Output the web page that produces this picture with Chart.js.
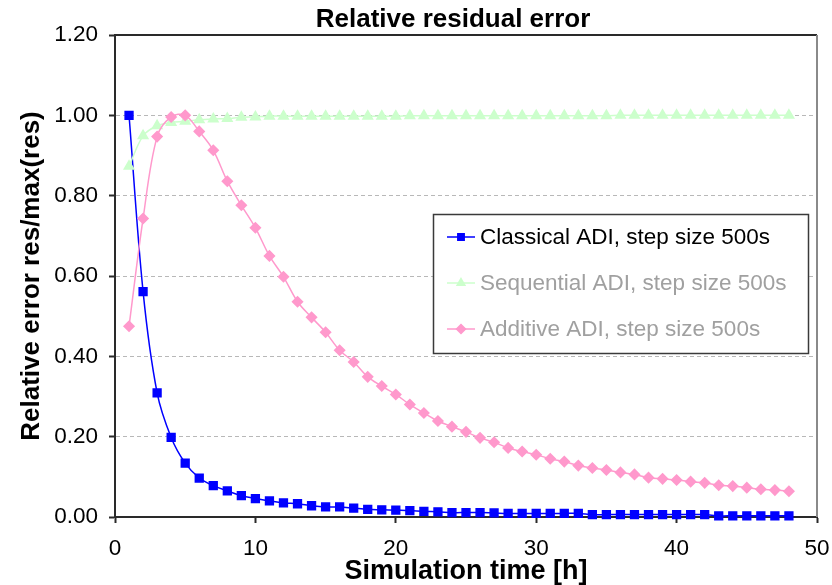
<!DOCTYPE html>
<html>
<head>
<meta charset="utf-8">
<script src="https://cdn.jsdelivr.net/npm/chart.js@4.4.0/dist/chart.umd.min.js"></script>
<style>
  html, body { margin: 0; padding: 0; background: #fff; }
  #wrap { width: 832px; height: 585px; }
</style>
</head>
<body>
<div id="wrap"><canvas id="residualChart" width="832" height="585"></canvas></div>
<script>
const titleText = "Relative residual error";
const xAxisTitle = "Simulation time [h]";
const yAxisTitle = "Relative error res/max(res)";
const seriesNames = ["Classical ADI, step size 500s", "Sequential ADI, step size 500s", "Additive ADI, step size 500s"];

const hours = [1, 2, 3, 4, 5, 6, 7, 8, 9, 10, 11, 12, 13, 14, 15, 16, 17, 18, 19, 20, 21, 22, 23, 24,
  25, 26, 27, 28, 29, 30, 31, 32, 33, 34, 35, 36, 37, 38, 39, 40, 41, 42, 43, 44, 45, 46, 47, 48];

const classicalADI = [1.000, 0.561, 0.309, 0.198, 0.134, 0.097, 0.078, 0.065, 0.053, 0.046, 0.040, 0.035,
  0.033, 0.028, 0.025, 0.025, 0.022, 0.019, 0.018, 0.017, 0.016, 0.014, 0.013, 0.011,
  0.011, 0.011, 0.010, 0.009, 0.009, 0.009, 0.009, 0.009, 0.009, 0.006, 0.006, 0.006,
  0.006, 0.006, 0.006, 0.006, 0.006, 0.006, 0.003, 0.003, 0.003, 0.003, 0.003, 0.003];

const sequentialADI = [0.873, 0.949, 0.974, 0.982, 0.985, 0.989, 0.991, 0.992, 0.995, 0.996, 0.998, 0.998,
  0.998, 0.998, 0.998, 0.998, 0.998, 0.998, 0.998, 0.998, 0.999, 0.999, 0.999, 0.999,
  0.999, 0.999, 0.999, 0.999, 0.999, 0.999, 0.999, 0.999, 0.999, 0.999, 0.999, 1.000,
  1.000, 1.000, 1.000, 1.000, 1.000, 1.000, 1.000, 1.000, 1.000, 1.000, 1.000, 1.000];

const additiveADI = [0.475, 0.743, 0.947, 0.996, 1.000, 0.960, 0.913, 0.836, 0.776, 0.720, 0.650, 0.598,
  0.536, 0.497, 0.460, 0.415, 0.386, 0.349, 0.326, 0.305, 0.280, 0.259, 0.239, 0.225,
  0.212, 0.197, 0.186, 0.172, 0.163, 0.155, 0.145, 0.138, 0.128, 0.122, 0.117, 0.111,
  0.106, 0.098, 0.095, 0.092, 0.088, 0.085, 0.079, 0.077, 0.073, 0.069, 0.067, 0.064];

const FONT = '"Liberation Sans", Arial, sans-serif';

function toPoints(values) {
  return hours.map((h, i) => ({ x: h, y: values[i] }));
}

// chart title + plot frame (top / right edges)
const frameAndTitle = {
  id: "frameAndTitle",
  beforeDatasetsDraw(chart) {
    const { ctx, chartArea: a } = chart;
    ctx.save();
    ctx.lineWidth = 2;
    ctx.strokeStyle = "#2a2a2a";
    ctx.beginPath();
    ctx.moveTo(a.left, a.top);
    ctx.lineTo(a.right, a.top);
    ctx.stroke();
    ctx.strokeStyle = "#8a8a8a";
    ctx.beginPath();
    ctx.moveTo(a.right, a.top);
    ctx.lineTo(a.right, a.bottom);
    ctx.stroke();
    ctx.restore();
  },
  afterDraw(chart) {
    const ctx = chart.ctx;
    ctx.save();
    ctx.font = "bold 26px " + FONT;
    ctx.fillStyle = "#000";
    ctx.textAlign = "center";
    ctx.textBaseline = "middle";
    ctx.fillText(titleText, 453, 20);
    ctx.restore();
  }
};

// boxed legend inside the plot, like the Excel one
const boxLegend = {
  id: "boxLegend",
  afterDatasetsDraw(chart) {
    const ctx = chart.ctx;
    ctx.save();
    ctx.fillStyle = "#fff";
    ctx.fillRect(433, 214, 376, 140);
    ctx.strokeStyle = "#3a3a3a";
    ctx.lineWidth = 1.5;
    ctx.strokeRect(433.5, 214.5, 375, 139);
    chart.data.datasets.forEach((ds, i) => {
      const y = 237 + i * 46;
      ctx.strokeStyle = ds.borderColor;
      ctx.lineWidth = 1.5;
      ctx.beginPath();
      ctx.moveTo(447, y);
      ctx.lineTo(475, y);
      ctx.stroke();
      ctx.fillStyle = ds.pointBackgroundColor;
      ctx.strokeStyle = ds.pointBorderColor;
      Chart.helpers.drawPoint(ctx, { pointStyle: ds.pointStyle, radius: 4.5, borderWidth: 1, rotation: 0 }, 461, y);
      ctx.fillStyle = i === 0 ? "#000" : "#a0a0a0";
      ctx.font = "22.5px " + FONT;
      ctx.textAlign = "left";
      ctx.textBaseline = "middle";
      ctx.fillText(ds.label, 480, y + 1);
    });
    ctx.restore();
  }
};

new Chart(document.getElementById("residualChart"), {
  type: "line",
  data: {
    datasets: [
      {
        label: seriesNames[0],
        data: toPoints(classicalADI),
        borderColor: "#0000ff",
        backgroundColor: "#0000ff",
        pointBackgroundColor: "#0000ff",
        pointBorderColor: "#0000ff",
        pointStyle: "rect",
        pointRadius: 5.5,
        borderWidth: 1.5,
        order: 3
      },
      {
        label: seriesNames[1],
        data: toPoints(sequentialADI),
        borderColor: "#ccffcc",
        backgroundColor: "#ccffcc",
        pointBackgroundColor: "#ccffcc",
        pointBorderColor: "#ccffcc",
        pointStyle: "triangle",
        pointRadius: 5.5,
        borderWidth: 1.5,
        order: 2
      },
      {
        label: seriesNames[2],
        data: toPoints(additiveADI),
        borderColor: "#ff99cc",
        backgroundColor: "#ff99cc",
        pointBackgroundColor: "#ff99cc",
        pointBorderColor: "#ff99cc",
        pointStyle: "rectRot",
        pointRadius: 5,
        borderWidth: 1.5,
        order: 1
      }
    ]
  },
  options: {
    responsive: false,
    animation: false,
    devicePixelRatio: 1,
    layout: { padding: { top: 35, left: 10, right: 15, bottom: 0 } },
    elements: { line: { tension: 0.35, fill: false } },
    datasets: { line: { clip: false } },
    plugins: {
      legend: { display: false },
      tooltip: { enabled: false },
      title: { display: false }
    },
    scales: {
      x: {
        type: "linear",
        position: "bottom",
        min: 0,
        max: 50,
        ticks: { stepSize: 10, color: "#000", font: { family: FONT, size: 22.5 }, padding: 12, maxRotation: 0 },
        grid: { drawOnChartArea: false, tickLength: 6, tickColor: "#2a2a2a", tickWidth: 2 },
        border: { color: "#2a2a2a", width: 2 },
        title: { display: true, text: xAxisTitle, color: "#000", font: { family: FONT, size: 27, weight: "bold" }, padding: { top: 0, bottom: -3 } },
        afterFit(scale) {
          scale.height = 68;
          scale.paddingLeft = 0;
          scale.paddingRight = 0;
        }
      },
      y: {
        min: 0,
        max: 1.2,
        ticks: {
          stepSize: 0.2,
          color: "#000",
          font: { family: FONT, size: 22.5 },
          padding: 11,
          callback: v => v.toFixed(2)
        },
        grid: {
          color: c => (c.tick.value > 1.19 || c.tick.value === 0) ? "rgba(0,0,0,0)" : "#b8b8b8",
          lineWidth: 1,
          tickLength: 6,
          tickColor: "#2a2a2a",
          tickWidth: 2
        },
        border: { color: "#2a2a2a", width: 2, dash: [4, 3] },
        title: { display: true, text: yAxisTitle, color: "#000", font: { family: FONT, size: 26, weight: "bold" }, padding: { top: 6, bottom: 0 } },
        afterFit(scale) {
          scale.width = 105;
          scale.paddingTop = 0;
          scale.paddingBottom = 0;
        }
      }
    }
  },
  plugins: [frameAndTitle, boxLegend]
});
</script>
</body>
</html>
